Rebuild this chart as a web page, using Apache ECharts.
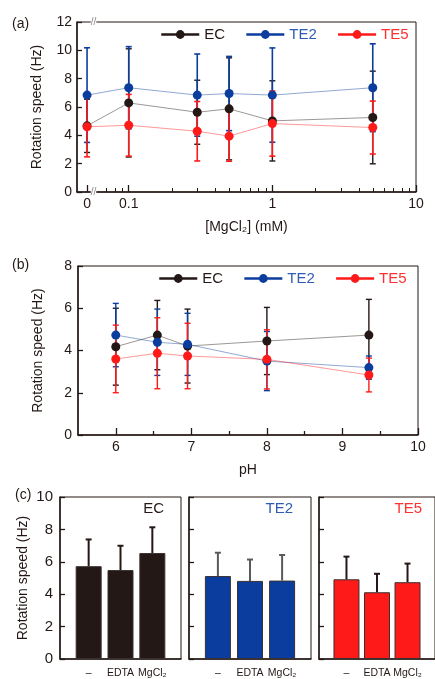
<!DOCTYPE html>
<html><head><meta charset="utf-8">
<script src="https://cdn.jsdelivr.net/npm/echarts@6/dist/echarts.min.js"></script>
<style>html,body{margin:0;padding:0;background:#fff}#c{width:435px;height:679px}</style>
</head><body><div id="c"></div>
<script>
// ---------- data ----------
// (a) rotation speed vs [MgCl2] (mM)
const mgConc   = [0, 0.1, 0.3, 0.5, 1, 5];
const mgEC     = [4.67, 6.29, 5.63, 5.87, 5.02, 5.26];
const mgEC_sd  = [1.88, 3.82, 2.26, 3.60, 2.83, 3.27];
const mgTE2    = [6.84, 7.36, 6.84, 6.95, 6.84, 7.36];
const mgTE2_sd = [3.34, 2.90, 2.90, 2.62, 3.33, 3.10];
const mgTE5    = [4.60, 4.71, 4.29, 3.94, 4.83, 4.55];
const mgTE5_sd = [2.12, 2.18, 2.10, 1.77, 2.30, 1.87];
const mgTickLabels = ['0', '0.1', '1', '10'];
const mgTickValues = [0, 0.1, 1, 10];
const mgMinorTicks = [0.07, 0.08, 0.09, 0.2, 0.3, 0.4, 0.5, 0.6, 0.7, 0.8, 0.9, 2, 3, 4, 5, 6, 7, 8, 9];

// (b) rotation speed vs pH
const pH       = [6.0, 6.55, 6.95, 8.0, 9.35];
const phEC     = [4.18, 4.73, 4.21, 4.45, 4.73];
const phEC_sd  = [1.82, 1.64, 1.75, 1.59, 1.69];
const phTE2    = [4.73, 4.39, 4.29, 3.50, 3.19];
const phTE2_sd = [1.50, 1.57, 1.47, 1.40, 0.55];
const phTE5    = [3.60, 3.87, 3.74, 3.58, 2.84];
const phTE5_sd = [1.60, 1.68, 1.55, 1.40, 0.80];
const phMajorTicks = [6, 7, 8, 9, 10];
const phMinorTicks = [6.5, 7.5, 8.5, 9.5];

// (c) bars by treatment
const treatments = ['–', 'EDTA', 'MgCl₂'];
const barEC     = [5.73, 5.49, 6.54];
const barEC_sd  = [1.65, 1.50, 1.59];
const barTE2    = [5.12, 4.82, 4.84];
const barTE2_sd = [1.44, 1.32, 1.58];
const barTE5    = [4.92, 4.12, 4.74];
const barTE5_sd = [1.40, 1.14, 1.15];

// ---------- style ----------
const FONT = "'Liberation Sans', Arial, sans-serif";
const INK = '#231815';
const C_EC = '#231815', C_TE2 = '#0b3d9e', C_TE5 = '#ff1a1a';
const T_EC = '#231815', T_TE2 = '#2f5cb3', T_TE5 = '#ff3030';

// log axis for (a) with a broken "0" position
const LOG_MIN = -1.36, LOG_MAX = 1, ZERO_AT = -1.29, BREAK_AT = -1.245;
function mgX(c) { return c === 0 ? ZERO_AT : Math.log10(c); }
const mgMajorPos = mgTickValues.map(mgX);
const mgMinorPos = mgMinorTicks.map(v => Math.log10(v));

function nearestLabel(v, positions, labels) {
  let best = 0;
  positions.forEach((p, i) => { if (Math.abs(p - v) < Math.abs(positions[best] - v)) best = i; });
  return labels[best];
}

function errSeries(xs, ys, sds, color, xi, yi, width, capHalf, upOnly) {
  return {
    type: 'custom', xAxisIndex: xi, yAxisIndex: yi, silent: true, z: upOnly ? 4 : 2,
    encode: { x: 0, y: 1 },
    data: xs.map((x, i) => [x, ys[i], sds[i]]),
    renderItem: function (params, api) {
      const x = api.value(0), y = api.value(1), e = api.value(2);
      const p0 = api.coord([x, upOnly ? y : y - e]);
      const p1 = api.coord([x, y + e]);
      const st = { stroke: color, lineWidth: width };
      const ch = [
        { type: 'line', shape: { x1: p0[0], y1: p0[1], x2: p1[0], y2: p1[1] }, style: st },
        { type: 'line', shape: { x1: p1[0] - capHalf, y1: p1[1], x2: p1[0] + capHalf, y2: p1[1] }, style: st }
      ];
      if (!upOnly) ch.push({ type: 'line', shape: { x1: p0[0] - capHalf, y1: p0[1], x2: p0[0] + capHalf, y2: p0[1] }, style: st });
      return { type: 'group', children: ch };
    }
  };
}

function lineSeries(name, xs, ys, color, xi, yi) {
  return {
    type: 'line', name: name, xAxisIndex: xi, yAxisIndex: yi, z: 3,
    data: xs.map((x, i) => [x, ys[i]]),
    symbol: 'circle', symbolSize: 9, showSymbol: true,
    itemStyle: { color: color },
    lineStyle: { color: color, width: 1, opacity: 0.45 },
    emphasis: { disabled: true }
  };
}

const axisLineStyle = { show: true, onZero: false, lineStyle: { color: INK, width: 1.5 } };
const labelStyle = { color: INK, fontSize: 14, fontFamily: FONT };
const nameStyle = { color: INK, fontSize: 14, fontFamily: FONT };

const grids = [
  { left: 77, top: 22, width: 339, height: 170 },
  { left: 78, top: 266, width: 340, height: 169 },
  { left: 60, top: 497, width: 121, height: 169 },
  { left: 189, top: 497, width: 122, height: 169 },
  { left: 319, top: 497, width: 121, height: 169 }
].map(g => Object.assign(g, { show: true, borderColor: INK, borderWidth: 1, backgroundColor: 'transparent', containLabel: false }));

const xAxes = [
  { gridIndex: 0, type: 'value', min: LOG_MIN, max: LOG_MAX, position: 'bottom',
    axisLine: axisLineStyle,
    axisTick: { inside: true, length: 7, customValues: mgMajorPos, lineStyle: { color: INK, width: 1.3 } },
    axisLabel: Object.assign({ customValues: mgMajorPos, margin: 5, formatter: v => nearestLabel(v, mgMajorPos, mgTickLabels) }, labelStyle),
    splitLine: { show: false },
    name: '[MgCl₂] (mM)', nameLocation: 'middle', nameGap: 28, nameTextStyle: nameStyle },
  { gridIndex: 0, type: 'value', min: LOG_MIN, max: LOG_MAX, position: 'bottom',
    axisLine: { show: false, onZero: false },
    axisTick: { inside: true, length: 4, customValues: mgMinorPos, lineStyle: { color: INK, width: 1 } },
    axisLabel: { show: false }, splitLine: { show: false } },
  { gridIndex: 1, type: 'value', min: 5.5, max: 10, position: 'bottom',
    axisLine: axisLineStyle,
    axisTick: { inside: true, length: 7, customValues: phMajorTicks, lineStyle: { color: INK, width: 1.3 } },
    axisLabel: Object.assign({ customValues: phMajorTicks, margin: 5 }, labelStyle),
    splitLine: { show: false },
    name: 'pH', nameLocation: 'middle', nameGap: 28, nameTextStyle: nameStyle },
  { gridIndex: 1, type: 'value', min: 5.5, max: 10, position: 'bottom',
    axisLine: { show: false, onZero: false },
    axisTick: { inside: true, length: 4, customValues: phMinorTicks, lineStyle: { color: INK, width: 1.3 } },
    axisLabel: { show: false }, splitLine: { show: false } }
];
[2, 3, 4].forEach(g => xAxes.push({
  gridIndex: g, type: 'value', min: -0.9, max: 2.9, position: 'bottom',
  axisLine: axisLineStyle, axisTick: { show: false },
  axisLabel: { customValues: [0, 1, 2], margin: 9, color: INK, fontSize: 10.5, fontFamily: FONT,
               showMinLabel: true, showMaxLabel: true, hideOverlap: false,
               formatter: v => treatments[Math.round(v)] },
  splitLine: { show: false }
}));

const yAxes = [
  { gridIndex: 0, type: 'value', min: 0, max: 12, interval: 2,
    axisLine: axisLineStyle,
    axisTick: { inside: true, length: 5, lineStyle: { color: INK, width: 1.3 } },
    axisLabel: Object.assign({ margin: 5 }, labelStyle), splitLine: { show: false },
    name: 'Rotation speed (Hz)', nameLocation: 'middle', nameGap: 33, nameTextStyle: nameStyle },
  { gridIndex: 1, type: 'value', min: 0, max: 8, interval: 2,
    axisLine: axisLineStyle,
    axisTick: { inside: true, length: 5, lineStyle: { color: INK, width: 1.3 } },
    axisLabel: Object.assign({ margin: 6 }, labelStyle), splitLine: { show: false },
    name: 'Rotation speed (Hz)', nameLocation: 'middle', nameGap: 33, nameTextStyle: nameStyle }
];
[2, 3, 4].forEach((g, k) => yAxes.push({
  gridIndex: g, type: 'value', min: 0, max: 10, interval: 2,
  axisLine: axisLineStyle,
  axisTick: { inside: true, length: 5, lineStyle: { color: INK, width: 1.3 } },
  axisLabel: Object.assign({ show: k === 0, margin: 7 }, labelStyle, { fontSize: 15 }),
  splitLine: { show: false },
  name: k === 0 ? 'Rotation speed (Hz)' : '', nameLocation: 'middle', nameGap: 30, nameTextStyle: nameStyle
}));

const mgXs = mgConc.map(mgX);
const barIdx = [0, 1, 2];

function barSeries(vals, color, xi, yi) {
  return {
    type: 'bar', xAxisIndex: xi, yAxisIndex: yi, barWidth: 26, z: 2,
    data: barIdx.map(i => [i, vals[i]]),
    itemStyle: { color: color, borderColor: '#3a3030', borderWidth: 1 },
    emphasis: { disabled: true }
  };
}

const series = [
  errSeries(mgXs, mgEC, mgEC_sd, C_EC, 0, 0, 1.4, 3, false),
  errSeries(mgXs, mgTE2, mgTE2_sd, C_TE2, 0, 0, 1.6, 3, false),
  errSeries(mgXs, mgTE5, mgTE5_sd, C_TE5, 0, 0, 1.6, 3, false),
  lineSeries('EC', mgXs, mgEC, C_EC, 0, 0),
  lineSeries('TE2', mgXs, mgTE2, C_TE2, 0, 0),
  lineSeries('TE5', mgXs, mgTE5, C_TE5, 0, 0),
  errSeries(pH, phEC, phEC_sd, C_EC, 2, 1, 1.4, 3, false),
  errSeries(pH, phTE2, phTE2_sd, C_TE2, 2, 1, 1.4, 3, false),
  errSeries(pH, phTE5, phTE5_sd, C_TE5, 2, 1, 1.4, 3, false),
  lineSeries('EC', pH, phEC, C_EC, 2, 1),
  lineSeries('TE2', pH, phTE2, C_TE2, 2, 1),
  lineSeries('TE5', pH, phTE5, C_TE5, 2, 1),
  barSeries(barEC, C_EC, 4, 2),
  barSeries(barTE2, C_TE2, 5, 3),
  barSeries(barTE5, C_TE5, 6, 4),
  errSeries(barIdx, barEC, barEC_sd, '#231815', 4, 2, 2, 3, true),
  errSeries(barIdx, barTE2, barTE2_sd, '#5a5a5a', 5, 3, 2, 3, true),
  errSeries(barIdx, barTE5, barTE5_sd, '#231815', 6, 4, 2, 3, true)
];

const legendData = [
  { name: 'EC', textStyle: { color: T_EC } },
  { name: 'TE2', textStyle: { color: T_TE2 } },
  { name: 'TE5', textStyle: { color: T_TE5 } }
];
function legendAt(left, top) {
  return { left: left, top: top, padding: 0, itemWidth: 38, itemHeight: 11, itemGap: 20,
           selectedMode: false, data: legendData,
           lineStyle: { width: 2.5, opacity: 1 },
           textStyle: { fontSize: 15, fontFamily: FONT } };
}

function titleAt(text, pos, color, size) {
  return Object.assign({ text: text, padding: 0,
    textStyle: { fontSize: size || 14, fontWeight: 'normal', color: color || INK, fontFamily: FONT } }, pos);
}

const chart = echarts.init(document.getElementById('c'), null, { renderer: 'canvas' });
chart.setOption({
  animation: false,
  backgroundColor: '#fff',
  title: [
    titleAt('(a)', { left: 12, top: 17 }),
    titleAt('(b)', { left: 12, top: 258 }),
    titleAt('(c)', { left: 15, top: 488 }),
    titleAt('EC', { right: 271, top: 501 }, T_EC, 15),
    titleAt('TE2', { right: 142, top: 501 }, T_TE2, 15),
    titleAt('TE5', { right: 13, top: 501 }, T_TE5, 15)
  ],
  legend: [legendAt(160, 27), legendAt(158, 271)],
  grid: grids,
  xAxis: xAxes,
  yAxis: yAxes,
  series: series
});

// axis-break marks on panel (a)
const pTop = chart.convertToPixel({ xAxisIndex: 0, yAxisIndex: 0 }, [BREAK_AT, 12]);
const pBot = chart.convertToPixel({ xAxisIndex: 0, yAxisIndex: 0 }, [BREAK_AT, 0]);
chart.setOption({
  graphic: [pTop, pBot].map(p => ({
    type: 'text', x: p[0], y: p[1], z: 100,
    style: { text: '//', fill: '#8a8a8a', fontSize: 10, fontFamily: FONT, align: 'center', verticalAlign: 'middle', backgroundColor: '#fff' }
  }))
});
</script>
</body></html>
